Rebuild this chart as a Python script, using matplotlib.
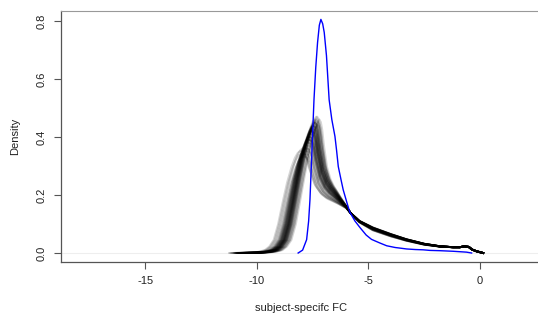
import numpy as np
import matplotlib
matplotlib.use("Agg")
import matplotlib.pyplot as plt
from matplotlib import rcParams

rcParams['font.family'] = ['Liberation Sans', 'DejaVu Sans']
rcParams['font.size'] = 8

# blue curve (group density)
blue_x = [-8.15, -7.95, -7.77, -7.68, -7.62, -7.53, -7.44, -7.36, -7.28, -7.20, -7.13,
          -7.05, -6.98, -6.88, -6.76, -6.64, -6.50, -6.43, -6.35, -6.22, -6.13, -5.95,
          -5.83, -5.60, -5.38, -5.10, -4.86, -4.50, -4.18, -3.80, -3.59, -3.29, -2.90,
          -2.54, -2.24, -1.79, -1.20, -0.60, -0.37]
blue_y = [0.000, 0.010, 0.046, 0.110, 0.184, 0.356, 0.528, 0.640, 0.725, 0.785, 0.805,
          0.790, 0.760, 0.680, 0.528, 0.460, 0.402, 0.356, 0.298, 0.250, 0.218, 0.170,
          0.140, 0.110, 0.088, 0.062, 0.047, 0.035, 0.025, 0.019, 0.017, 0.014, 0.012,
          0.011, 0.009, 0.008, 0.006, 0.003, 0.000]

# central black curve (subject densities)
base_x = [-10.8, -10.0, -9.5, -9.2, -9.0, -8.8, -8.6, -8.4, -8.2, -8.0, -7.85, -7.72,
          -7.62, -7.54, -7.46, -7.38, -7.28, -7.1, -6.9, -6.7, -6.5, -6.3, -6.0, -5.8,
          -5.4, -4.8, -4.0, -3.3, -2.5, -1.8, -1.2, -0.9, -0.7, -0.5, -0.35, -0.15,
          0.0, 0.15]
base_y = [0.000, 0.001, 0.004, 0.010, 0.022, 0.045, 0.100, 0.180, 0.260, 0.330, 0.375,
          0.405, 0.420, 0.425, 0.418, 0.395, 0.345, 0.278, 0.240, 0.218, 0.202, 0.185,
          0.160, 0.138, 0.109, 0.085, 0.063, 0.046, 0.031, 0.023, 0.020, 0.020, 0.023,
          0.021, 0.012, 0.006, 0.003, 0.000]

# per-subject shift of the rising edge and peak height
shifts = [0.00, -0.05, 0.05, -0.10, 0.10, 0.02, -0.02, 0.07, -0.07, 0.12,
          -0.15, 0.15, -0.20, 0.20, 0.03, -0.03, 0.08, -0.12, 0.04, -0.04,
          0.01, -0.08, 0.06, -0.18, 0.18, -0.25, 0.25, -0.30, 0.30, -0.40,
          0.35, -0.45, 0.00, 0.09, -0.09, 0.13, -0.13, 0.16, -0.22, 0.22,
          -0.01, 0.11, -0.06, 0.05, -0.35, 0.28, -0.16, 0.14, -0.11, 0.02]
peaks = [0.43, 0.41, 0.44, 0.40, 0.45, 0.42, 0.42, 0.44, 0.39, 0.46,
         0.37, 0.45, 0.36, 0.47, 0.43, 0.41, 0.44, 0.38, 0.43, 0.40,
         0.42, 0.39, 0.44, 0.35, 0.46, 0.34, 0.47, 0.33, 0.45, 0.34,
         0.46, 0.35, 0.41, 0.44, 0.40, 0.45, 0.39, 0.45, 0.36, 0.46,
         0.42, 0.44, 0.40, 0.43, 0.36, 0.44, 0.38, 0.45, 0.39, 0.42]

xticks = [-15, -10, -5, 0]
yticks = [0.0, 0.2, 0.4, 0.6, 0.8]

fig = plt.figure(figsize=(5.38, 3.22), dpi=100)
ax = fig.add_axes([0.1128, 0.1854, 0.8952, 0.7814])

ax.axhline(0, color='#eeeeee', linewidth=0.8, zorder=0)

bx = np.array(base_x)
by = np.array(base_y)
# how strongly each part of the curve follows the subject's shift / height
wx = np.interp(bx, [-11, -7.55, -6.0], [1, 1, 0])
wy = np.interp(bx, [-8.6, -7.55, -6.6, -5.8, -4.6, -2.5, -1.0],
               [0, 1, 0.6, 0, 0.45, 0.35, 0])
for s, h in zip(shifts, peaks):
    cx = bx + s * wx
    cy = by * (1 + (h / 0.425 - 1) * wy)
    ax.plot(cx, cy, color='black', alpha=0.16, linewidth=1.4)

ax.plot(blue_x, blue_y, color='blue', linewidth=1.0)

ax.set_xlim(-18.8, 2.8)
ax.set_ylim(-0.032, 0.835)
ax.set_xticks(xticks)
ax.set_xticklabels([str(t) for t in xticks])
ax.set_yticks(yticks)
ax.set_yticklabels(['%.1f' % t for t in yticks], rotation=90, va='center')
ax.tick_params(length=5, width=0.8, color='#555555', labelcolor='#222222', pad=5)

for side in ['left', 'bottom']:
    ax.spines[side].set_color('#555555')
    ax.spines[side].set_linewidth(0.9)
ax.spines['top'].set_color('#999999')
ax.spines['right'].set_color('#999999')

ax.set_xlabel('subject-specifc FC', color='#222222', labelpad=12)
ax.set_ylabel('Density', color='#222222', labelpad=12)

fig.savefig('out.png', dpi=100)
